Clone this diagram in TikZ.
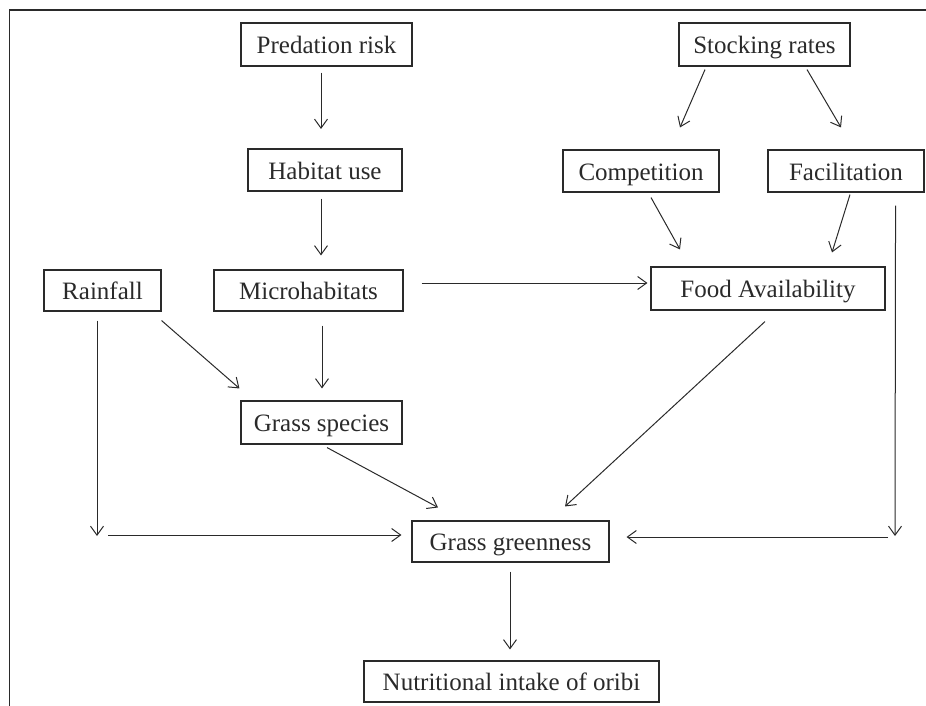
\documentclass[tikz,border=0pt]{standalone}
\usepackage{fontspec}
\setmainfont{Liberation Serif}
\usetikzlibrary{arrows.meta,calc}
\definecolor{ink}{HTML}{2A2A2A}
\tikzset{
  box/.style={draw=ink, line width=1.1pt, inner sep=0pt, text=ink,
    font=\fontsize{25}{28}\selectfont, align=center, text height=18pt, text depth=0pt},
  arr/.style={draw=ink, line width=1pt, -{Straight Barb[length=9pt,width=13pt,line width=1pt]}},
}
\begin{document}
\begin{tikzpicture}[x=1pt,y=-1pt]
\useasboundingbox (0,0) rectangle (926,706);
\draw[ink, line width=1.2pt] (9.5,706) -- (9.5,10) -- (926,10);

\node[box, minimum width=171, minimum height=43] (pred) at (326.5,44.5) {Predation risk};
\node[box, minimum width=154, minimum height=42] (hab) at (325,170) {Habitat use};
\node[box, minimum width=117, minimum height=41] (rain) at (102.5,290.5) {Rainfall};
\node[box, minimum width=189, minimum height=41] (micro) at (308.5,290.5) {Microhabitats};
\node[box, minimum width=171, minimum height=43] (stock) at (764.5,44.5) {Stocking rates};
\node[box, minimum width=156, minimum height=42] (comp) at (641,171) {Competition};
\node[box, minimum width=156, minimum height=42] (facil) at (846,171) {Facilitation};
\node[box, minimum width=234, minimum height=43] (food) at (768,288.5) {Food Availability};
\node[box, minimum width=161, minimum height=43] (spec) at (321.5,422.5) {Grass species};
\node[box, minimum width=197, minimum height=41] (green) at (510.5,541.5) {Grass greenness};
\node[box, minimum width=295, minimum height=41] (nutr) at (511.5,681.5) {Nutritional intake of oribi};

\coordinate (rainEnd) at (97,536);
\coordinate (rainStart) at (108,535);
\coordinate (facEnd) at (895,536);
\coordinate (facStart) at (888,537);

\draw[arr] ($(pred.south)+(-5.5,6)$) -- ($(hab.north)+(-4,-19.5)$);
\draw[arr] ($(hab.south)+(-4,7)$) -- ($(micro.north)+(12.5,-14)$);
\draw[arr] ($(rain.south)+(-5.5,9)$) -- (rainEnd);
\draw[arr] (rainStart) -- ($(green.west)+(-10,-6.5)$);
\draw[arr] ($(rain.south east)+(0,9)$) -- ($(spec.north west)+(-1,-12)$);
\draw[arr] ($(micro.south)+(13.5,14)$) -- ($(spec.north)+(0.5,-12)$);
\draw[arr] ($(micro.east)+(18,-7.5)$) -- ($(food.west)+(-3,-5.5)$);
\draw[arr] ($(stock.south)+(-59.5,3)$) -- ($(comp.north)+(39,-22)$);
\draw[arr] ($(stock.south)+(42.5,3)$) -- ($(facil.north)+(-5,-22)$);
\draw[arr] ($(comp.south)+(10,5)$) -- ($(food.north)+(-88,-17)$);
\draw[arr] ($(facil.south)+(4,2)$) -- ($(food.north)+(64,-14)$);
\draw[arr] ($(food.south)+(-3,11)$) -- ($(green.north)+(54.5,-14)$);
\draw[arr] ($(facil.south east)+(-29,13)$) -- (facEnd);
\draw[arr] (facStart) -- ($(green.east)+(17,-4.5)$);
\draw[arr] ($(spec.south)+(5.5,3)$) -- ($(green.north)+(-72.5,-13)$);
\draw[arr] ($(green.south)+(-0.5,9)$) -- ($(nutr.north)+(-1.5,-11)$);
\end{tikzpicture}
\end{document}
